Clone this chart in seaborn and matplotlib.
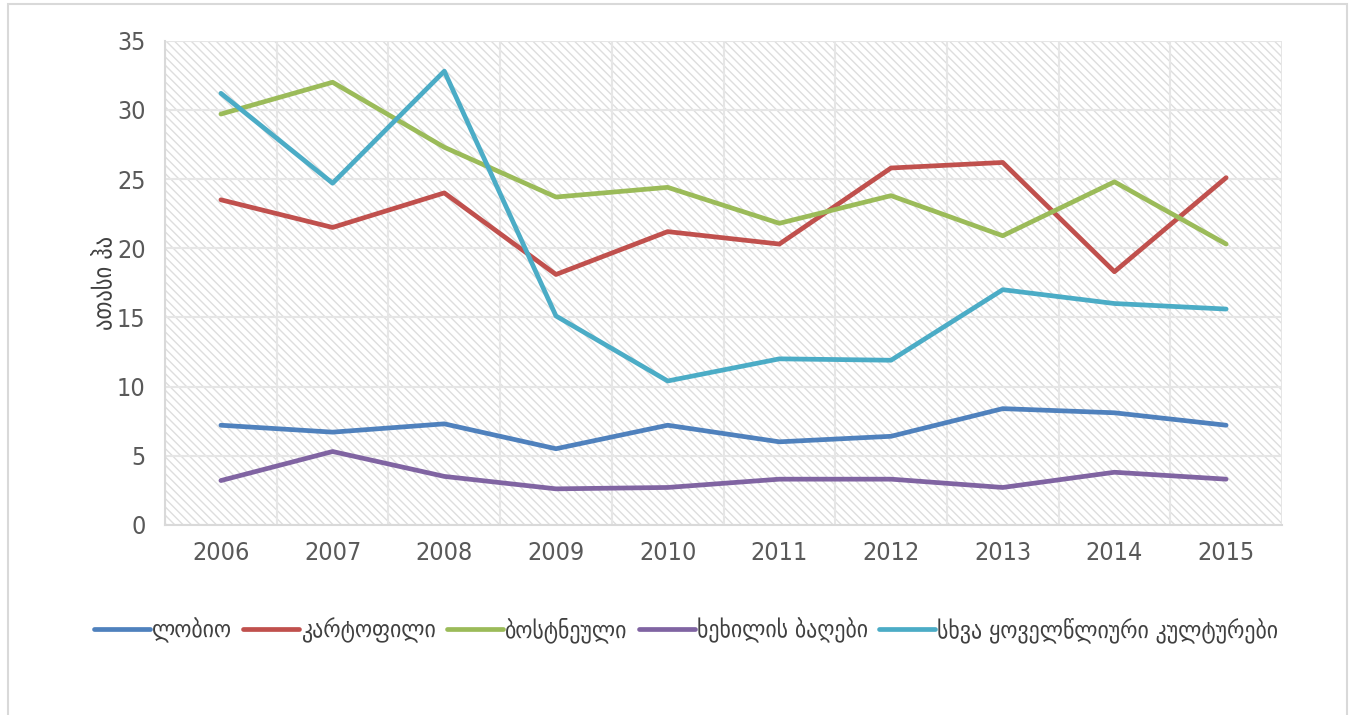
import pandas as pd
import matplotlib.pyplot as plt
import seaborn as sns
from matplotlib.patches import Rectangle
from matplotlib.ticker import MultipleLocator

years = [2006, 2007, 2008, 2009, 2010, 2011, 2012, 2013, 2014, 2015]
labels = ["ლობიო", "კარტოფილი", "ბოსტნეული", "ხეხილის ბაღები",
          "სხვა ყოველწლიური კულტურები"]
lobio = [7.2, 6.7, 7.3, 5.5, 7.2, 6.0, 6.4, 8.4, 8.1, 7.2]
kartofili = [23.5, 21.5, 24.0, 18.1, 21.2, 20.3, 25.8, 26.2, 18.3, 25.1]
bostneuli = [29.7, 32.0, 27.3, 23.7, 24.4, 21.8, 23.8, 20.9, 24.8, 20.3]
khekhili = [3.2, 5.3, 3.5, 2.6, 2.7, 3.3, 3.3, 2.7, 3.8, 3.3]
skhva = [31.2, 24.7, 32.8, 15.1, 10.4, 12.0, 11.9, 17.0, 16.0, 15.6]
colors = ["#4F81BD", "#C0504D", "#9BBB59", "#8064A2", "#4BACC6"]

series = [lobio, kartofili, bostneuli, khekhili, skhva]
df = pd.concat([pd.DataFrame({"year": years, "value": s, "crop": name})
                for name, s in zip(labels, series)], ignore_index=True)

sns.set_style("white")
plt.rcParams['font.family'] = ['DejaVu Sans']
plt.rcParams['font.stretch'] = 'condensed'
plt.rcParams['hatch.linewidth'] = 1.0

fig = plt.figure(figsize=(13.53, 7.15), dpi=100)
ax = fig.add_axes([0.122, 0.266, 0.8255, 0.677])

# hatched plot background
ax.add_patch(Rectangle((0, 0), 1, 1, transform=ax.transAxes, facecolor='none',
                       edgecolor='#dedede', hatch='\\\\\\\\', linewidth=0, zorder=0.1))

sns.lineplot(data=df, x="year", y="value", hue="crop", palette=colors,
             linewidth=3.4, ax=ax, legend=True)

ax.set_xlim(2005.5, 2015.5)
ax.set_ylim(0, 35)
ax.set_xticks(years)
ax.set_xticks([y + 0.5 for y in [2005] + years], minor=True)
ax.yaxis.set_major_locator(MultipleLocator(5))
ax.set_axisbelow(True)
ax.grid(axis='y', which='major', color='#e6e6e6', linewidth=1.5)
ax.grid(axis='x', which='minor', color='#e6e6e6', linewidth=1.5)
ax.tick_params(axis='both', which='both', length=0, labelsize=18,
               labelcolor='#595959', pad=12)
ax.tick_params(axis='y', pad=14)

for side in ['top', 'right']:
    ax.spines[side].set_visible(False)
for side in ['left', 'bottom']:
    ax.spines[side].set_color('#d9d9d9')
    ax.spines[side].set_linewidth(1.5)

ax.set_xlabel("")
ax.set_ylabel("ათასი ჰა", fontsize=18, color='#404040', labelpad=0)

handles, lbls = ax.get_legend_handles_labels()
ax.get_legend().remove()
fig.legend(handles, lbls, loc='center', bbox_to_anchor=(0.507, 0.119), ncol=5,
           frameon=False, fontsize=17.5, labelcolor='#404040',
           handlelength=2.3, handletextpad=0.1, columnspacing=0.45)

# outer chart frame
fig.patches.append(Rectangle((8 / 1353, -0.02), 1339 / 1353, 1 - 4 / 715 + 0.02,
                             transform=fig.transFigure, fill=False,
                             edgecolor='#d9d9d9', linewidth=1.5))

fig.savefig("out.png", dpi=100)
